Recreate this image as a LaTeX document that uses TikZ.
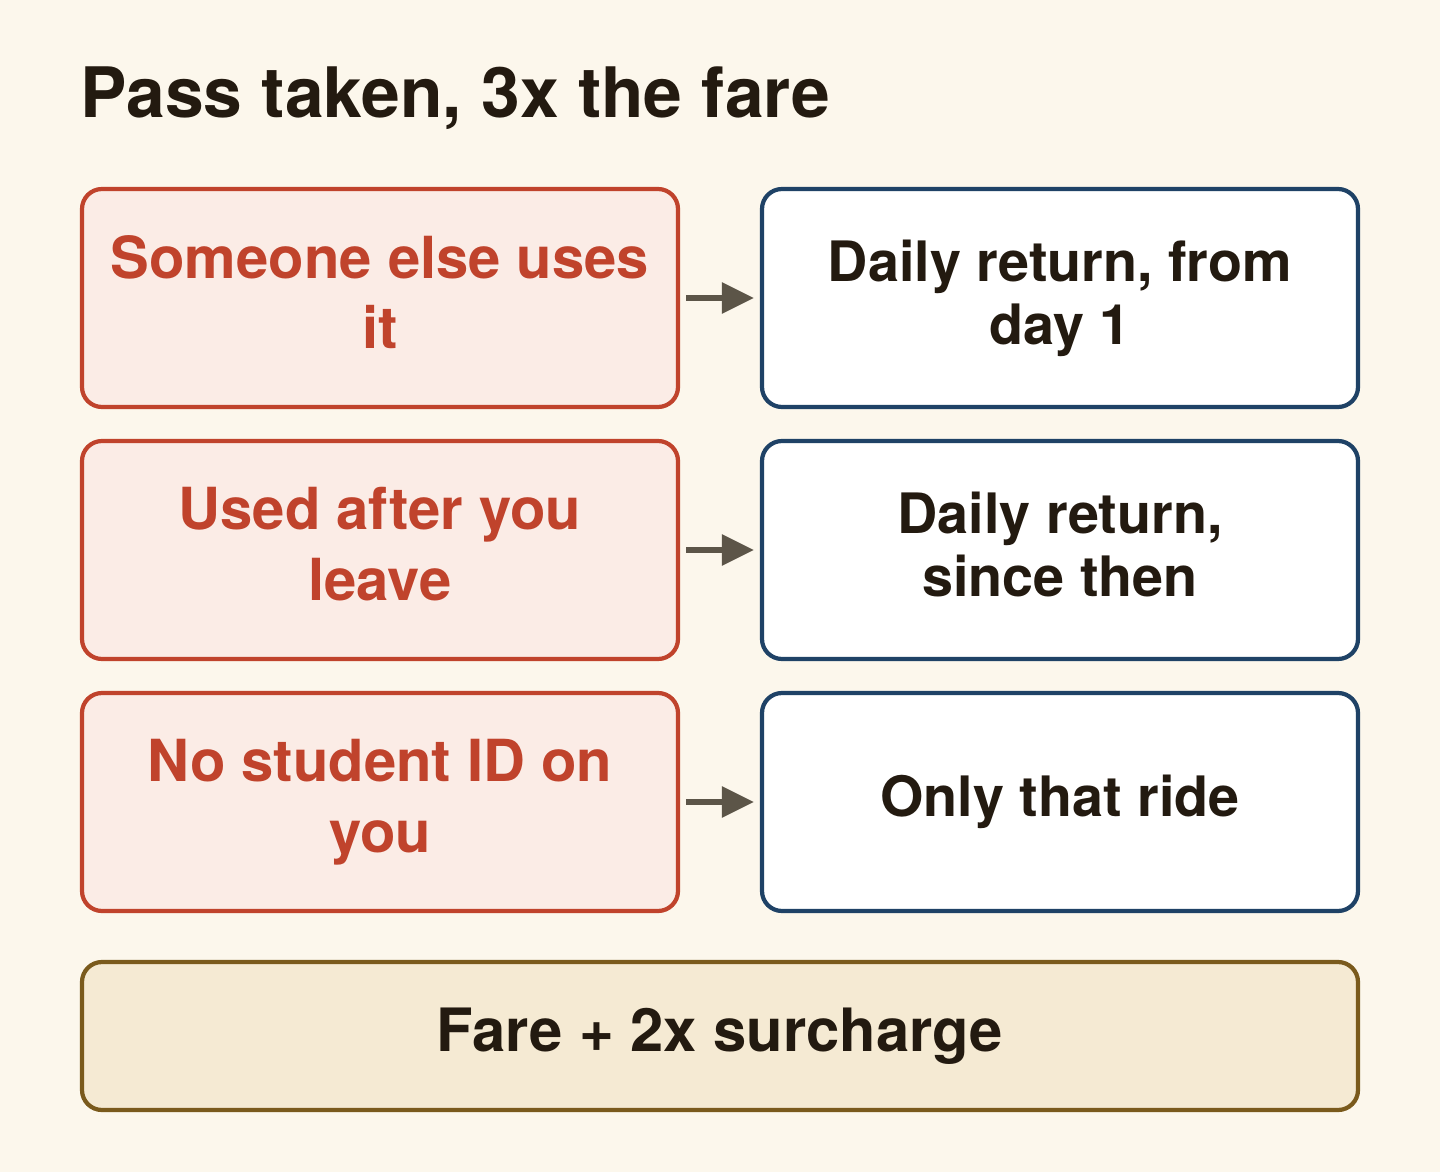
\documentclass[tikz,border=0pt]{standalone}
\usepackage{fontspec}
\setmainfont{TeX Gyre Heros}
\usetikzlibrary{arrows.meta,positioning}
\usepackage{xcolor}
\definecolor{bgcream}{HTML}{FCF7EC}
\definecolor{inkdark}{HTML}{231A10}
\definecolor{redline}{HTML}{C0432C}
\definecolor{redfill}{HTML}{FBECE6}
\definecolor{navyline}{HTML}{1F4266}
\definecolor{goldline}{HTML}{7A5A1C}
\definecolor{goldfill}{HTML}{F5EAD3}
\definecolor{arrowgrey}{HTML}{5C5548}

\tikzset{
  panel/.style={line width=2.4pt,rounded corners=0.4cm,align=center,text depth=0.24cm},
  casebox/.style={panel,draw=redline,fill=redfill,
    minimum width=11.92cm,minimum height=4.36cm,text=redline,
    font=\fontsize{33}{40}\selectfont\bfseries},
  resultbox/.style={panel,draw=navyline,fill=white,
    minimum width=11.92cm,minimum height=4.36cm,text=inkdark,
    font=\fontsize{31.7}{36}\selectfont\bfseries},
  totalbox/.style={panel,draw=goldline,fill=goldfill,
    minimum width=25.52cm,minimum height=2.96cm,text=inkdark,
    font=\fontsize{34}{40}\selectfont\bfseries},
  leadsto/.style={-{Triangle[length=0.64cm,width=0.6cm]},line width=3.4pt,color=arrowgrey,
    shorten <=0.12cm,shorten >=0.12cm}
}

\begin{document}
\begin{tikzpicture}
\fill[bgcream] (0,0) rectangle (28.8,-23.44);
\useasboundingbox (0,0) rectangle (28.8,-23.44);

\node[anchor=base west,text=inkdark,font=\fontsize{39.6}{44}\selectfont\bfseries] (title) at (1.48,-2.36) {Pass taken, 3x the fare};

% what happens
\node[casebox] (c1) at (7.6,-5.96) {Someone else uses\\it};
\node[casebox] (c2) at (7.6,-11.0) {Used after you\\leave};
\node[casebox] (c3) at (7.6,-16.04) {No student ID on\\you};

% what you pay back
\node[resultbox] (r1) at (21.2,-5.96) {Daily return, from\\day 1};
\node[resultbox] (r2) at (21.2,-11.0) {Daily return,\\since then};
\node[resultbox] (r3) at (21.2,-16.04) {Only that ride};

\node[totalbox] (total) at (14.4,-20.72) {Fare + 2x surcharge};

\draw[leadsto] (c1) -- (r1);
\draw[leadsto] (c2) -- (r2);
\draw[leadsto] (c3) -- (r3);
\end{tikzpicture}
\end{document}
